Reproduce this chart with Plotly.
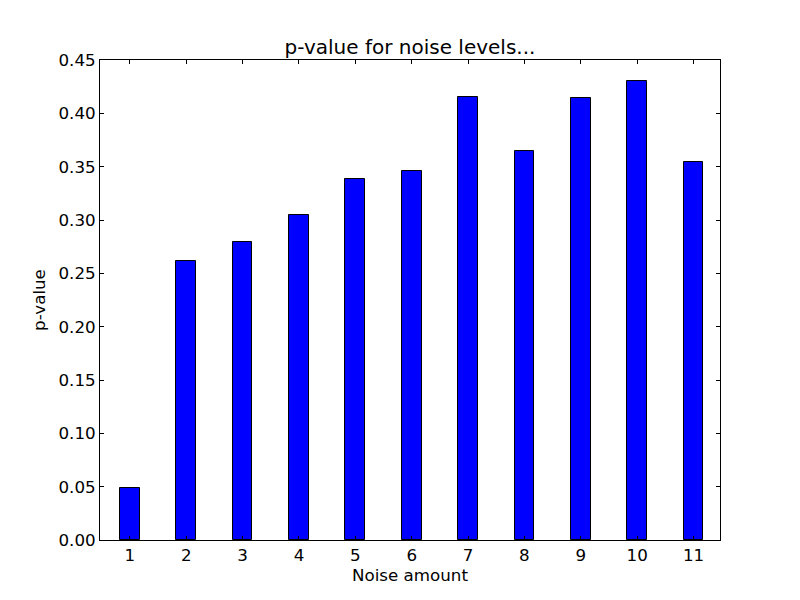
import plotly.graph_objects as go

noise_levels = [1, 2, 3, 4, 5, 6, 7, 8, 9, 10, 11]
p_values = [0.0488, 0.2616, 0.2794, 0.3047, 0.3384, 0.3460, 0.4153, 0.3647, 0.4144, 0.4303, 0.3544]
y_ticks = [0.00, 0.05, 0.10, 0.15, 0.20, 0.25, 0.30, 0.35, 0.40, 0.45]
y_tick_labels = ["0.00", "0.05", "0.10", "0.15", "0.20", "0.25", "0.30", "0.35", "0.40", "0.45"]

font = "DejaVu Sans"
W, H = 792, 592

fig = go.Figure(go.Bar(
    x=noise_levels, y=p_values, width=0.35,
    marker=dict(color="#0000ff", line=dict(color="black", width=1)),
))

fig.update_layout(
    width=W, height=H,
    paper_bgcolor="white", plot_bgcolor="white",
    margin=dict(l=92, r=80, t=52, b=60),
    showlegend=False,
    font=dict(family=font, size=16.7, color="black"),
    title=dict(text="p-value for noise levels...", x=(92 + 712) / 2 / W, xanchor="center",
               y=1 - 39 / H, yanchor="middle", font=dict(family=font, size=20)),
    bargap=0,
)
fig.update_xaxes(
    range=[0.47, 11.47], tickmode="array", tickvals=noise_levels,
    ticktext=[str(v) for v in noise_levels],
    ticks="inside", ticklen=4, tickwidth=1, tickcolor="black",
    showline=True, linecolor="black", linewidth=1, mirror="ticks",
    showgrid=False, zeroline=False,
    tickfont=dict(family=font, size=16.7),
    title=dict(text="Noise amount", font=dict(family=font, size=16.7), standoff=4),
)
fig.update_yaxes(
    range=[0, 0.45], tickmode="array", tickvals=y_ticks, ticktext=y_tick_labels,
    ticks="inside", ticklen=4, tickwidth=1, tickcolor="black",
    showline=True, linecolor="black", linewidth=1, mirror="ticks",
    showgrid=False, zeroline=False,
    tickfont=dict(family=font, size=16.7),
    title=dict(text="p-value", font=dict(family=font, size=16.7), standoff=8),
)

fig.write_html("out.html")
